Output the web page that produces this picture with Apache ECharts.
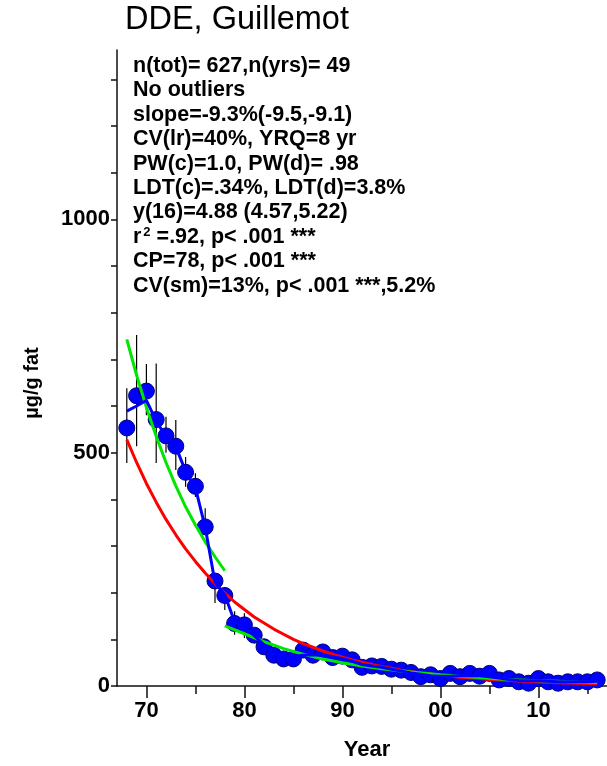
<!DOCTYPE html>
<html>
<head>
<meta charset="utf-8">
<script src="https://cdn.jsdelivr.net/npm/echarts@6/dist/echarts.min.js"></script>
<style>
html,body{margin:0;padding:0;background:#fff}
#c{width:607px;height:766px}
</style>
</head>
<body>
<div id="c"></div>
<script>
// Sampling years (two-digit offset from 1900) and annual DDE concentrations, µg/g fat
const years = [68,69,70,71,72,73,74,75,76,77,78,79,80,81,82,83,84,85,86,87,88,89,90,91,92,93,94,95,96,97,98,99,100,101,102,103,104,105,106,107,108,109,110,111,112,113,114,115,116];
const ddeValues = [553,622,632,571,536,514,458,428,341,225,194,134,131,109,84,66,58,58,77,66,73,61,64,56,40,43,42,36,34,29,20,24,16,27,20,27,21,27,13,16,9,6,16,9,6,9,9,9,13];

// Confidence intervals for the early years
const ciYears = [68,69,70,71,72,73,74,75,76,77,78,79,80];
const ciLow  = [478,514,580,478,500,463,427,405,328,178,163,110,103];
const ciHigh = [638,752,690,691,577,570,491,456,381,242,212,160,156];

// Log-linear regression line over the whole period
const regressionLine = [528,479,434,394,357,324,294,267,242,219,199,180,164,148,135,122,111,100,91,83,75,68,62,56,51,46,42,38,34,31,28,26,23,21,19,17,16,14,13,12,10.5,9.5,8.6,7.8,7.1,6.4,5.8,5.3,4.8];

// Change-point regression, before and after 1978
const cpEarlyYears = [68,69,70,71,72,73,74,75,76,77,78];
const cpEarlyLine  = [743,666,597,535,479,429,384,345,309,277,247];
const cpLateYears  = [78,80,82,84,86,88,90,92,94,96,98,100,102,104,106,108,110,112,114,116];
const cpLateLine   = [129,112,95,80,68,58,50,43,37,32,28,24,21,18,15,13,11,10,8.5,7.5];

// Running smoother
const smoothLine = [589,600,612,568,534,513,460,425,340,222,195,138,125,108,88,72,64,63,66,67,66,63,59,53,46,43,40,36,32,28,25,22,21,21,22,22,22,20,17,14,12,11,11,10,9,9,9,9,10];

// Axis ticks and labels
const yMinorTicks = [0,100,200,300,400,500,600,700,800,900,1000,1100,1200,1300];
const yLabels = [0,500,1000];
const xMinorTicks = [70,75,80,85,90,95,100,105,110,115];
const xMajorTicks = [70,80,90,100,110];

const titleText = 'DDE, Guillemot';
const statLines = [
  'n(tot)= 627,n(yrs)= 49',
  'No outliers',
  'slope=-9.3%(-9.5,-9.1)',
  'CV(lr)=40%, YRQ=8 yr',
  'PW(c)=1.0, PW(d)= .98',
  'LDT(c)=.34%, LDT(d)=3.8%',
  'y(16)=4.88 (4.57,5.22)',
  '{t|r}{s|2}{t| =.92, p< .001 ***}',
  'CP=78, p< .001 ***',
  'CV(sm)=13%, p< .001 ***,5.2%'
];

const FONT = '"Liberation Sans", Arial, sans-serif';
const pair = (xs, ys) => xs.map((x, i) => [x, ys[i]]);

const chart = echarts.init(document.getElementById('c'), null, {renderer: 'canvas'});

const axisLineStyle = {color: '#111', width: 1.5};

const statGraphics = statLines.map((t, i) => ({
  type: 'text',
  left: 133,
  top: 55 + i * 24.4,
  style: {
    text: t,
    fill: '#000',
    font: 'bold 21.5px ' + FONT,
    rich: {
      t: {fontSize: 21.5, fontWeight: 'bold', fontFamily: FONT, fill: '#000'},
      s: {fontSize: 13, fontWeight: 'bold', fontFamily: FONT, fill: '#000', verticalAlign: 'top', padding: [0, 0, 9, 2]}
    }
  }
}));

chart.setOption({
  animation: false,
  backgroundColor: '#fff',
  grid: {left: 117, top: 50, width: 490, height: 636, containLabel: false},
  xAxis: [
    {
      type: 'value', min: 67, max: 117,
      axisLine: {show: true, lineStyle: axisLineStyle},
      axisTick: {show: true, customValues: xMinorTicks, length: 8, lineStyle: {color: '#111', width: 1.5}},
      axisLabel: {show: false},
      splitLine: {show: false}
    },
    {
      type: 'value', min: 67, max: 117, position: 'bottom',
      axisLine: {show: false},
      axisTick: {show: true, customValues: xMajorTicks, length: 12, lineStyle: {color: '#111', width: 1.5}},
      axisLabel: {
        show: true, customValues: xMajorTicks, margin: 14,
        fontSize: 22, fontWeight: 'bold', fontFamily: FONT, color: '#000',
        formatter: v => String(Math.round(v) % 100).padStart(2, '0')
      },
      splitLine: {show: false}
    }
  ],
  yAxis: [{
    type: 'value', min: 0, max: 1363,
    axisLine: {show: true, lineStyle: axisLineStyle},
    axisTick: {show: true, customValues: yMinorTicks, length: 6, lineStyle: {color: '#111', width: 1.5}},
    axisLabel: {
      show: true, customValues: yLabels, margin: 7,
      fontSize: 22, fontWeight: 'bold', fontFamily: FONT, color: '#000',
      formatter: v => String(Math.round(v))
    },
    splitLine: {show: false}
  }],
  graphic: [
    {
      type: 'text', left: 125, top: 4,
      style: {text: titleText, fill: '#000', font: '32.5px ' + FONT}
    },
    {
      type: 'text', x: 32, y: 383, rotation: Math.PI / 2,
      style: {text: 'µg/g fat', fill: '#000', font: 'bold 20px ' + FONT, align: 'center', verticalAlign: 'middle'}
    },
    {
      type: 'text', x: 367, y: 750,
      style: {text: 'Year', fill: '#000', font: 'bold 22px ' + FONT, align: 'center', verticalAlign: 'middle'}
    }
  ].concat(statGraphics),
  series: [
    {
      type: 'custom',
      xAxisIndex: 0, yAxisIndex: 0,
      silent: true,
      data: ciYears.map((y, i) => [y, ciLow[i], ciHigh[i]]),
      encode: {x: 0, y: [1, 2]},
      renderItem: (params, api) => {
        const a = api.coord([api.value(0), api.value(1)]);
        const b = api.coord([api.value(0), api.value(2)]);
        return {type: 'line', shape: {x1: a[0], y1: a[1], x2: b[0], y2: b[1]}, style: {stroke: '#000', lineWidth: 1.2}};
      },
      z: 1
    },
    {
      type: 'scatter',
      data: pair(years, ddeValues),
      symbol: 'circle', symbolSize: 16,
      itemStyle: {color: '#0000ff', borderColor: '#00007a', borderWidth: 1, opacity: 1},
      z: 2
    },
    {
      type: 'line', data: pair(years, regressionLine), showSymbol: false,
      lineStyle: {color: '#ff0000', width: 3}, z: 3
    },
    {
      type: 'line', data: pair(cpEarlyYears, cpEarlyLine), showSymbol: false,
      lineStyle: {color: '#00e600', width: 3}, z: 4
    },
    {
      type: 'line', data: pair(cpLateYears, cpLateLine), showSymbol: false,
      lineStyle: {color: '#00e600', width: 3}, z: 4
    },
    {
      type: 'line', data: pair(years, smoothLine), showSymbol: false,
      lineStyle: {color: '#0000ff', width: 3}, z: 5
    }
  ]
});
</script>
</body>
</html>
